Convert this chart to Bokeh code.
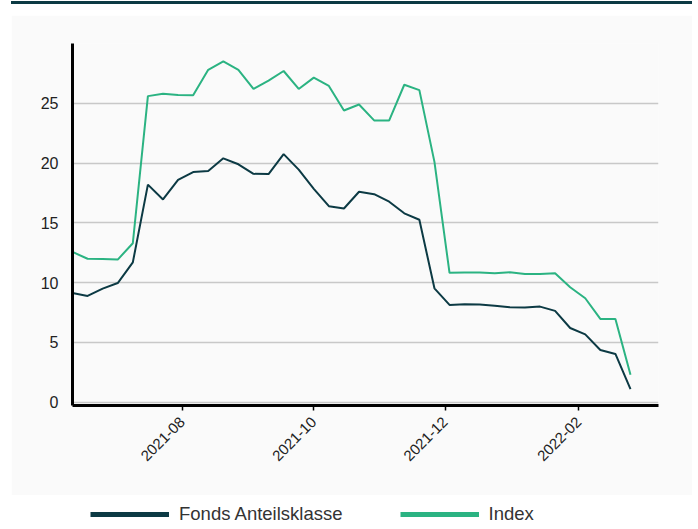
from datetime import datetime
from math import pi

from bokeh.plotting import figure
from bokeh.models import (Range1d, FixedTicker, DatetimeTickFormatter, Legend,
                          LegendItem, Div, ColumnDataSource)
from bokeh.layouts import column
from bokeh.embed import file_html
from bokeh.resources import INLINE

# ---- data ----
dates = ["2021-06-11", "2021-06-18", "2021-06-25", "2021-07-02", "2021-07-09",
         "2021-07-16", "2021-07-23", "2021-07-30", "2021-08-06", "2021-08-13",
         "2021-08-20", "2021-08-27", "2021-09-03", "2021-09-10", "2021-09-17",
         "2021-09-24", "2021-10-01", "2021-10-08", "2021-10-15", "2021-10-22",
         "2021-10-29", "2021-11-05", "2021-11-12", "2021-11-19", "2021-11-26",
         "2021-12-03", "2021-12-10", "2021-12-17", "2021-12-24", "2021-12-31",
         "2022-01-07", "2022-01-14", "2022-01-21", "2022-01-28", "2022-02-04",
         "2022-02-11", "2022-02-18", "2022-02-25"]

fonds = [9.14, 8.89, 9.5, 9.97, 11.7, 18.2, 16.96, 18.6, 19.25, 19.33,
         20.4, 19.9, 19.1, 19.08, 20.75, 19.45, 17.85, 16.4, 16.2, 17.6,
         17.4, 16.77, 15.8, 15.26, 9.53, 8.14, 8.19, 8.17, 8.08, 7.94,
         7.92, 8.0, 7.64, 6.21, 5.68, 4.37, 4.04, 1.1]

index_vals = [12.57, 12.0, 11.98, 11.93, 13.3, 25.6, 25.8, 25.7, 25.67, 27.8,
              28.5, 27.8, 26.2, 26.9, 27.7, 26.2, 27.15, 26.45, 24.4, 24.9,
              23.57, 23.57, 26.55, 26.1, 20.1, 10.82, 10.85, 10.85, 10.79, 10.87,
              10.73, 10.73, 10.79, 9.62, 8.7, 6.97, 6.97, 2.3]

series_names = ["Fonds Anteilsklasse", "Index"]
y_ticks = [0, 5, 10, 15, 20, 25]
x_tick_dates = ["2021-08-01", "2021-10-01", "2021-12-01", "2022-02-01"]

DARK = "#0c3a44"
GREEN = "#2bb382"
PANEL = "#fafafa"
FONT = "Liberation Sans"

x = [datetime.strptime(d, "%Y-%m-%d") for d in dates]
src = ColumnDataSource(dict(x=x, fonds=fonds, index=index_vals))

p = figure(width=681, height=480, x_axis_type="datetime",
           x_range=Range1d(datetime(2021, 6, 11), datetime(2022, 3, 10)),
           y_range=Range1d(-0.27, 30),
           output_backend="svg", toolbar_location=None,
           min_border_left=61, min_border_right=34, min_border_top=28,
           min_border_bottom=90,
           background_fill_color=PANEL, border_fill_color=PANEL,
           outline_line_color=None, margin=(11, 0, 0, 0))

p.line("x", "fonds", source=src, line_color=DARK, line_width=2)
p.line("x", "index", source=src, line_color=GREEN, line_width=2)

p.xgrid.visible = False
p.ygrid.grid_line_color = "#c8c8c8"
p.ygrid.grid_line_width = 1.5

p.yaxis.ticker = FixedTicker(ticks=y_ticks)
p.yaxis.major_tick_line_color = None
p.yaxis.major_tick_out = 0
p.yaxis.major_tick_in = 0
p.yaxis.minor_tick_line_color = None
p.yaxis.axis_line_width = 3
p.yaxis.axis_line_color = "black"
p.yaxis.major_label_standoff = 14
p.yaxis.major_label_text_font = FONT
p.yaxis.major_label_text_font_size = "16px"
p.yaxis.major_label_text_color = "#222222"

tick_ms = [datetime.strptime(d, "%Y-%m-%d").timestamp() * 1000 for d in x_tick_dates]
p.xaxis.ticker = FixedTicker(ticks=tick_ms)
fmt = "%Y-%m"
p.xaxis.formatter = DatetimeTickFormatter(
    milliseconds=fmt, seconds=fmt, minsec=fmt, minutes=fmt, hourmin=fmt,
    hours=fmt, days=fmt, months=fmt, years=fmt)
p.xaxis.major_label_orientation = pi / 4
p.xaxis.axis_line_width = 3
p.xaxis.axis_line_color = "black"
p.xaxis.major_tick_out = 5
p.xaxis.major_tick_in = 0
p.xaxis.major_tick_line_width = 1.5
p.xaxis.major_tick_line_color = "black"
p.xaxis.minor_tick_line_color = None
p.xaxis.major_label_standoff = 9
p.xaxis.major_label_text_font = FONT
p.xaxis.major_label_text_font_size = "15px"
p.xaxis.major_label_text_color = "#222222"

# ---- legend strip (series lines kept out of view; only legend glyphs show) ----
lg = figure(width=681, height=34, output_backend="svg", toolbar_location=None,
            x_axis_location=None, y_axis_location=None,
            x_range=Range1d(x[0], x[-1]), y_range=Range1d(1000, 1001),
            min_border=0, min_border_left=0, min_border_right=0,
            min_border_top=0, min_border_bottom=0,
            background_fill_color="white", border_fill_color="white",
            outline_line_color=None)
lg.grid.visible = False
r1 = lg.line("x", "fonds", source=src, line_color=DARK, line_width=5)
r2 = lg.line("x", "index", source=src, line_color=GREEN, line_width=5)
legend = Legend(items=[LegendItem(label=series_names[0], renderers=[r1]),
                       LegendItem(label=series_names[1], renderers=[r2])],
                orientation="horizontal", location=(18, 4),
                padding=0, margin=0, spacing=57, label_standoff=10,
                glyph_width=79, glyph_height=20, label_height=20,
                border_line_color=None, background_fill_alpha=0,
                label_text_font=FONT, label_text_font_size="18.5px",
                label_text_color="#333333")
lg.add_layout(legend, "center")

top_line = Div(width=681, height=3, margin=(0, 0, 0, 0),
               styles={"background-color": DARK})

layout = column(top_line, p, lg, spacing=0, margin=(1, 0, 0, 11))

open("out.html", "w").write(file_html(layout, INLINE))
